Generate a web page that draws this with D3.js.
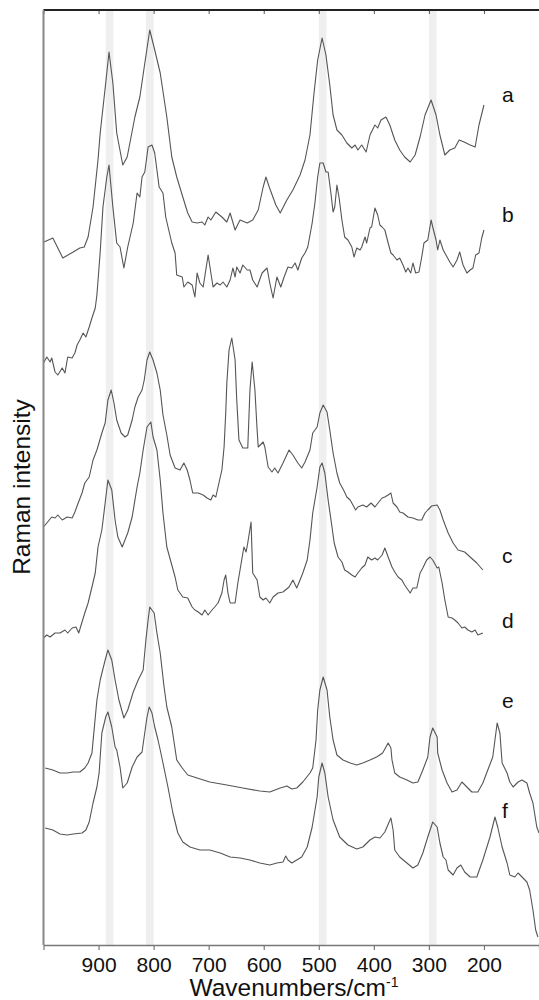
<!DOCTYPE html>
<html>
<head>
<meta charset="utf-8">
<script src="https://cdn.jsdelivr.net/npm/d3@7"></script>
<style>
  body { margin: 0; background: #fff; }
  svg { display: block; font-family: "Liberation Sans", Arial, sans-serif; }
</style>
</head>
<body>
<svg></svg>
<script>
var width = 539,
  height = 1000;

// wavenumber (cm-1), intensity (a.u., stacked)
var specA = [[999,703],[983,707],[965,687],[946,693],[934,697],[926,698],[919,708],[910,738],[901,785],[897,812],[887,862],[881,893],[874,862],[867,812],[856,780],[848,788],[834,828],[825,848],[817,878],[807,915],[798,895],[788,872],[776,828],[767,788],[758,768],[747,748],[738,732],[730,723],[721,722],[712,723],[707,720],[701,728],[696,725],[687,733],[676,728],[667,723],[661,732],[652,715],[643,725],[630,722],[620,725],[610,735],[601,758],[596,768],[590,758],[578,740],[570,732],[558,745],[547,755],[534,770],[525,785],[516,810],[509,850],[502,885],[494,907],[487,890],[480,860],[474,830],[467,815],[458,810],[449,802],[440,797],[434,800],[429,795],[422,800],[414,793],[407,810],[398,820],[393,817],[387,825],[378,828],[371,820],[362,805],[353,795],[344,788],[334,783],[325,790],[316,808],[307,830],[296,845],[287,830],[280,810],[271,790],[262,795],[253,797],[245,805],[236,803],[225,800],[216,798],[209,820],[200,840]];

var specB = [[1000,582],[994,588],[988,583],[985,587],[979,573],[974,570],[966,577],[961,572],[956,588],[948,587],[943,592],[939,600],[934,605],[928,612],[923,608],[917,618],[912,627],[906,637],[903,650],[897,693],[892,738],[885,768],[881,780],[874,738],[867,702],[861,698],[854,677],[847,698],[837,722],[830,752],[825,748],[821,768],[816,773],[810,798],[803,800],[798,792],[790,758],[783,752],[778,728],[767,702],[761,692],[758,670],[748,668],[745,658],[738,663],[730,660],[725,648],[721,672],[716,662],[710,658],[701,690],[696,672],[692,658],[685,662],[679,660],[674,663],[667,658],[661,665],[656,677],[652,668],[649,678],[643,672],[638,680],[630,675],[625,675],[620,665],[612,658],[603,672],[594,677],[589,662],[583,647],[576,668],[569,658],[563,668],[556,678],[549,677],[543,682],[538,675],[531,687],[525,692],[520,698],[512,722],[507,742],[502,768],[498,782],[492,782],[487,773],[483,773],[478,752],[474,733],[471,738],[467,760],[463,747],[458,725],[453,708],[447,705],[440,698],[436,688],[431,697],[425,695],[422,698],[416,708],[413,702],[407,717],[404,718],[398,737],[393,730],[389,720],[385,718],[380,715],[374,702],[369,692],[365,690],[358,685],[353,687],[347,680],[342,673],[338,677],[333,672],[329,682],[324,672],[318,673],[313,688],[309,702],[302,705],[296,725],[293,718],[287,705],[284,695],[280,705],[274,695],[269,690],[262,683],[256,678],[249,685],[244,693],[238,680],[231,672],[225,675],[220,677],[215,690],[209,692],[204,707],[200,715]];

var specC = [[1000,418],[994,422],[985,428],[979,427],[974,430],[966,425],[957,428],[948,427],[943,433],[937,442],[930,452],[925,462],[917,468],[910,485],[903,495],[894,512],[888,522],[883,545],[877,555],[872,542],[867,525],[859,512],[852,508],[847,510],[839,525],[834,538],[828,548],[821,555],[817,565],[812,585],[807,593],[801,585],[794,572],[788,555],[783,530],[776,510],[770,490],[761,477],[752,475],[745,482],[739,475],[734,465],[729,452],[719,452],[710,450],[703,447],[696,445],[692,450],[687,448],[683,458],[676,475],[672,498],[669,532],[667,562],[663,595],[658,607],[652,585],[649,545],[645,505],[638,497],[629,497],[625,555],[621,583],[616,555],[612,515],[610,498],[601,503],[598,498],[592,478],[585,473],[580,477],[574,472],[565,482],[554,495],[547,490],[538,482],[531,477],[525,483],[516,495],[511,512],[503,518],[498,532],[492,540],[485,533],[480,515],[474,492],[467,472],[462,462],[455,455],[449,448],[443,445],[438,440],[433,435],[429,438],[420,440],[413,438],[405,442],[398,438],[391,443],[385,447],[380,448],[374,450],[369,452],[365,442],[358,438],[353,433],[347,432],[338,428],[329,427],[320,425],[313,425],[307,432],[302,435],[295,439],[285,440],[280,435],[274,425],[265,412],[256,402],[247,395],[235,393],[225,388],[213,382],[202,375]];

var specD = [[1000,307],[994,310],[988,308],[979,312],[970,312],[961,315],[956,312],[948,317],[941,318],[936,312],[930,323],[925,332],[919,342],[912,358],[906,372],[901,398],[894,415],[888,442],[883,465],[876,455],[870,425],[865,408],[857,398],[852,405],[847,412],[839,428],[830,458],[825,472],[819,495],[812,518],[805,523],[801,508],[794,495],[788,465],[783,432],[776,398],[767,380],[761,368],[756,355],[747,348],[738,347],[730,338],[725,335],[719,333],[712,330],[707,335],[701,330],[694,335],[689,338],[683,342],[676,352],[672,365],[669,370],[665,352],[661,342],[652,342],[647,362],[640,385],[636,398],[632,393],[629,402],[623,423],[620,372],[612,365],[607,348],[601,345],[596,347],[589,342],[583,348],[574,352],[565,353],[554,358],[547,365],[540,357],[534,365],[529,372],[521,385],[516,405],[511,432],[503,458],[498,478],[494,482],[489,472],[483,445],[476,418],[472,402],[465,388],[458,383],[453,375],[447,373],[440,370],[434,368],[429,372],[422,377],[416,380],[411,388],[404,385],[398,387],[393,385],[385,390],[380,397],[374,388],[367,378],[362,373],[356,368],[349,365],[344,360],[334,352],[329,357],[322,357],[316,372],[311,377],[304,385],[298,388],[293,385],[285,377],[282,378],[276,362],[271,345],[265,328],[258,327],[253,325],[247,322],[240,317],[235,318],[229,315],[222,313],[216,315],[211,310],[202,312]];

var specE = [[997,177],[983,175],[970,172],[957,172],[946,173],[934,173],[925,177],[919,182],[912,192],[903,245],[897,265],[888,285],[883,295],[876,285],[870,265],[863,245],[854,227],[847,235],[837,253],[828,265],[819,275],[814,305],[810,325],[807,338],[799,332],[794,312],[788,292],[781,258],[776,238],[767,218],[758,185],[748,177],[738,170],[721,167],[698,163],[667,160],[638,157],[607,154],[589,153],[570,157],[558,159],[549,156],[540,157],[529,163],[516,172],[511,177],[505,205],[502,235],[498,255],[492,268],[485,255],[480,228],[474,205],[467,190],[456,185],[443,182],[431,180],[420,182],[407,185],[395,188],[384,192],[374,202],[369,197],[367,185],[362,172],[353,168],[340,165],[329,162],[320,163],[311,175],[302,188],[298,208],[293,217],[285,208],[284,192],[276,175],[267,162],[258,153],[249,155],[240,163],[231,158],[222,153],[211,153],[202,162],[193,175],[184,188],[176,222],[171,212],[167,182],[158,172],[153,163],[147,158],[138,163],[131,165],[122,162],[117,152],[111,142],[104,118],[100,112]];

var specF = [[997,117],[983,115],[970,111],[957,110],[946,111],[930,112],[923,115],[917,123],[910,142],[903,158],[899,172],[894,212],[887,228],[883,233],[876,218],[870,198],[867,195],[861,178],[856,157],[848,162],[839,178],[830,188],[821,193],[812,228],[808,238],[803,232],[798,218],[792,205],[788,195],[783,182],[774,158],[765,132],[756,112],[747,103],[734,98],[716,95],[698,95],[679,92],[661,88],[643,87],[625,85],[607,82],[589,80],[576,82],[565,83],[560,89],[556,85],[549,82],[540,85],[531,88],[521,98],[512,118],[503,148],[500,168],[494,182],[489,172],[483,148],[474,125],[462,108],[447,100],[431,96],[420,98],[407,105],[398,108],[389,107],[380,113],[373,122],[369,127],[365,115],[362,95],[353,88],[340,82],[329,77],[320,80],[311,92],[302,108],[293,123],[285,118],[280,102],[274,88],[269,85],[265,75],[256,70],[249,77],[242,80],[235,73],[225,68],[213,68],[202,85],[189,108],[180,128],[175,118],[167,98],[158,82],[153,70],[144,68],[138,72],[129,67],[122,63],[117,55],[111,35],[106,15],[102,8]];

var spectra = [specA, specB, specC, specD, specE, specF];
var labels = ["a", "b", "c", "d", "e", "f"];
var labelLevels = [843, 723, 382, 317, 237, 127];
var labelWavenumber = 167;
var bandCenters = [880, 807, 493, 293];
var bandHalfWidth = 7;
var tickValues = [1000, 900, 800, 700, 600, 500, 400, 300, 200, 100];

var x = d3.scaleLinear().domain([1000, 100]).range([43.5, 539]);
var y = d3.scaleLinear().domain([0, 935]).range([945, 10]);

var svg = d3.select("svg")
  .attr("width", width)
  .attr("height", height);

// grey highlight bands
svg.append("g")
  .selectAll("rect")
  .data(bandCenters)
  .enter().append("rect")
  .attr("x", d => x(d + bandHalfWidth))
  .attr("width", d => x(d - bandHalfWidth) - x(d + bandHalfWidth))
  .attr("y", y(935))
  .attr("height", y(0) - y(935))
  .attr("fill", "#efefef");

var line = d3.line()
  .x(d => x(d[0]))
  .y(d => y(d[1]));

svg.append("g")
  .selectAll("path")
  .data(spectra)
  .enter().append("path")
  .attr("d", line)
  .attr("fill", "none")
  .attr("stroke", "#555")
  .attr("stroke-width", 1.1)
  .attr("stroke-linejoin", "round");

// bottom axis
var xAxis = d3.axisBottom(x)
  .tickValues(tickValues)
  .tickSizeInner(5)
  .tickSizeOuter(0)
  .tickPadding(7)
  .tickFormat(d => (d == 1000 || d == 100) ? "" : d);

var gx = svg.append("g")
  .attr("transform", "translate(0," + y(0) + ")")
  .call(xAxis);
gx.select(".domain").attr("stroke", "#777").attr("stroke-width", 1.5);
gx.selectAll(".tick line").attr("stroke", "#777").attr("stroke-width", 1.2);
gx.selectAll("text")
  .attr("font-size", 21)
  .attr("fill", "#111")
  .attr("font-family", "Liberation Sans, Arial, sans-serif");

// top frame with inner ticks
var xTop = d3.axisTop(x)
  .tickValues(tickValues)
  .tickSizeInner(-4)
  .tickSizeOuter(0)
  .tickFormat("");
var gt = svg.append("g")
  .attr("transform", "translate(0," + y(935) + ")")
  .call(xTop);
gt.select(".domain").remove();
gt.selectAll(".tick line").attr("stroke", "#555");

svg.append("rect")
  .attr("x", x(1000))
  .attr("y", y(935) - 1)
  .attr("width", width - x(1000))
  .attr("height", 2)
  .attr("fill", "#222");

// left frame
svg.append("rect")
  .attr("x", x(1000) - 1)
  .attr("y", y(935))
  .attr("width", 2)
  .attr("height", y(0) - y(935))
  .attr("fill", "#888");

// spectrum labels
svg.append("g")
  .selectAll("text")
  .data(labels)
  .enter().append("text")
  .attr("x", x(labelWavenumber))
  .attr("y", (d, i) => y(labelLevels[i]))
  .attr("font-size", 21)
  .attr("fill", "#111")
  .text(d => d);

// axis titles
var xt = svg.append("text")
  .attr("x", 294)
  .attr("y", 996)
  .attr("text-anchor", "middle")
  .attr("font-size", 24.5)
  .attr("fill", "#111")
  .text("Wavenumbers/cm");
xt.append("tspan")
  .attr("dy", -9)
  .attr("font-size", 14)
  .text("-1");

svg.append("text")
  .attr("transform", "translate(30,487) rotate(-90)")
  .attr("text-anchor", "middle")
  .attr("font-size", 24.5)
  .attr("fill", "#111")
  .text("Raman intensity");
</script>
</body>
</html>
